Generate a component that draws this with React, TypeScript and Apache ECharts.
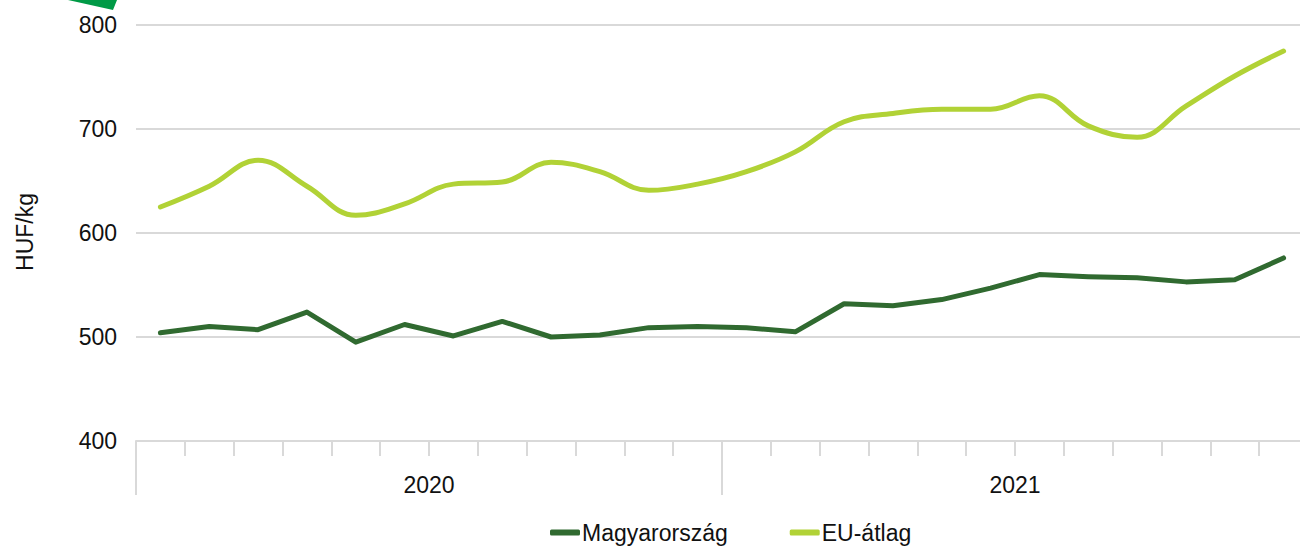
import React, { useEffect, useRef } from "react";
import * as echarts from "echarts";

const months = ["1", "2", "3", "4", "5", "6", "7", "8", "9", "10", "11", "12", "1", "2", "3", "4", "5", "6", "7", "8", "9", "10", "11", "12"];
const years = ["2020", "2021"];
const hungary = [504, 510, 507, 524, 495, 512, 501, 515, 500, 502, 509, 510, 509, 505, 532, 530, 536, 547, 560, 558, 557, 553, 555, 576];
const euAverage = [625, 645, 670, 645, 617, 628, 647, 649, 668, 659, 641, 647, 659, 678, 707, 715, 719, 719, 732, 703, 692, 722, 751, 775];
const seriesNames = ["Magyarország", "EU-átlag"];
const yTicks = { min: 400, max: 800, interval: 100 };
const yName = "HUF/kg";

const FONT = "'Liberation Sans', Arial, sans-serif";
const GRID_COLOR = "#d9d9d9";

export default function App() {
  const ref = useRef<HTMLDivElement>(null);
  useEffect(() => {
    if (!ref.current) return;
    const chart = echarts.init(ref.current, null, { renderer: "svg" });
    chart.setOption({
      animation: false,
      textStyle: { fontFamily: FONT },
      grid: { left: 136, width: 1172, top: 25, height: 416, containLabel: false, outerBoundsMode: "none" },
      legend: {
        left: 550,
        top: 521,
        padding: 0,
        itemWidth: 30,
        itemHeight: 6,
        itemGap: 62,
        icon: "roundRect",
        textStyle: { fontSize: 23, color: "#111", fontFamily: FONT, padding: [0, 0, 0, -3] },
        data: seriesNames,
      },
      graphic: [
        {
          type: "polygon",
          shape: { points: [[68, 0], [117, 0], [113, 10]] },
          style: { fill: "#009a46" },
        },
        {
          type: "text",
          x: 25,
          y: 232,
          rotation: Math.PI / 2,
          style: {
            text: yName,
            fontSize: 23,
            fontFamily: FONT,
            fill: "#111",
            align: "center",
            verticalAlign: "middle",
          },
        },
      ],
      xAxis: [
        {
          type: "category",
          data: months,
          position: "bottom",
          boundaryGap: true,
          axisLine: { show: true, lineStyle: { color: GRID_COLOR, width: 2 } },
          axisTick: { show: true, interval: 0, length: 15, lineStyle: { color: GRID_COLOR, width: 2 } },
          axisLabel: { show: false },
          splitLine: { show: false },
        },
        {
          type: "category",
          data: years,
          position: "bottom",
          boundaryGap: true,
          axisLine: { show: false },
          axisTick: { show: true, interval: 0, length: 54, lineStyle: { color: GRID_COLOR, width: 2 } },
          axisLabel: { show: true, margin: 32, fontSize: 23, color: "#111", fontFamily: FONT },
          splitLine: { show: false },
        },
      ],
      yAxis: {
        type: "value",
        min: yTicks.min,
        max: yTicks.max,
        interval: yTicks.interval,
        axisLine: { show: false },
        axisTick: { show: false },
        axisLabel: { margin: 19, fontSize: 23, color: "#111", fontFamily: FONT },
        splitLine: { show: true, lineStyle: { color: GRID_COLOR, width: 2 } },
      },
      series: [
        {
          name: seriesNames[0],
          type: "line",
          data: hungary,
          xAxisIndex: 0,
          showSymbol: false,
          symbol: "none",
          lineStyle: { color: "#306a30", width: 5, cap: "round", join: "round" },
          itemStyle: { color: "#306a30" },
        },
        {
          name: seriesNames[1],
          type: "line",
          data: euAverage,
          xAxisIndex: 0,
          smooth: 0.4,
          showSymbol: false,
          symbol: "none",
          lineStyle: { color: "#b1d236", width: 5, cap: "round", join: "round" },
          itemStyle: { color: "#b1d236" },
        },
      ],
    });
    return () => chart.dispose();
  }, []);
  return (
    <div
      ref={ref}
      style={{ position: "fixed", left: 0, top: 0, width: 1300, height: 547, background: "#fff" }}
    />
  );
}
